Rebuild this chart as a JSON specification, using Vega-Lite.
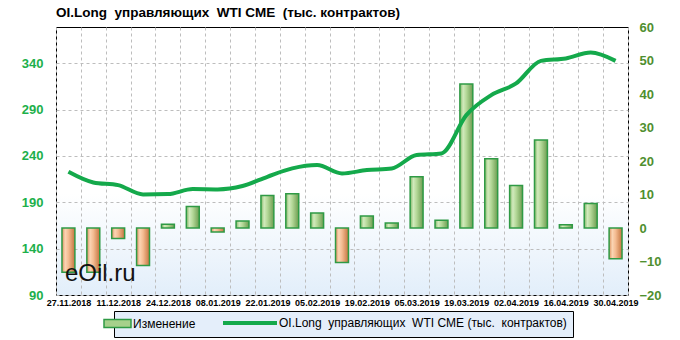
{
  "$schema": "https://vega.github.io/schema/vega-lite/v6.json",
  "width": 572,
  "height": 268,
  "autosize": {"type": "none"},
  "padding": {"left": 56, "top": 27, "right": 52, "bottom": 45},
  "background": "white",
  "config": {
    "font": "Liberation Sans",
    "view": {
      "stroke": "#000000",
      "strokeWidth": 1,
      "fill": {"gradient": "linear", "x1": 0, "y1": 0, "x2": 0, "y2": 1, "stops": [{"offset": 0, "color": "#ffffff"}, {"offset": 0.62, "color": "#ffffff"}, {"offset": 1, "color": "#e2eefa"}]}
    }
  },
  "title": {
    "text": "OI.Long\u00a0 управляющих\u00a0 WTI CME\u00a0 (тыс. контрактов)",
    "anchor": "start",
    "frame": "group",
    "font": "Liberation Sans",
    "fontSize": 13.5,
    "fontWeight": "bold",
    "color": "#000000",
    "baseline": "alphabetic",
    "offset": 8,
    "dy": 17
  },
  "data": {
    "values": [
      {"d": "27.11.2018", "change": -13.2, "oi": 222.9},
      {"d": "04.12.2018", "change": -13.2, "oi": 211.4},
      {"d": "11.12.2018", "change": -3.1, "oi": 208.5},
      {"d": "18.12.2018", "change": -11.2, "oi": 198.5},
      {"d": "24.12.2018", "change": 1.1, "oi": 198.8},
      {"d": "31.12.2018", "change": 6.4, "oi": 204.2},
      {"d": "08.01.2019", "change": -1.2, "oi": 203.9},
      {"d": "15.01.2019", "change": 2.1, "oi": 207.5},
      {"d": "22.01.2019", "change": 9.7, "oi": 217.5},
      {"d": "29.01.2019", "change": 10.2, "oi": 226.5},
      {"d": "05.02.2019", "change": 4.5, "oi": 230.1},
      {"d": "12.02.2019", "change": -10.3, "oi": 221.1},
      {"d": "19.02.2019", "change": 3.6, "oi": 224.7},
      {"d": "26.02.2019", "change": 1.5, "oi": 226.5},
      {"d": "05.03.2019", "change": 15.3, "oi": 240.9},
      {"d": "12.03.2019", "change": 2.3, "oi": 242.7},
      {"d": "19.03.2019", "change": 43.0, "oi": 284.0},
      {"d": "26.03.2019", "change": 20.7, "oi": 305.5},
      {"d": "02.04.2019", "change": 12.7, "oi": 318.1},
      {"d": "09.04.2019", "change": 26.3, "oi": 342.5},
      {"d": "16.04.2019", "change": 1.0, "oi": 345.1},
      {"d": "23.04.2019", "change": 7.3, "oi": 351.5},
      {"d": "30.04.2019", "change": -9.2, "oi": 342.5}
    ]
  },
  "encoding": {
    "x": {
      "field": "d",
      "type": "ordinal",
      "sort": null,
      "scale": {"paddingInner": 0, "paddingOuter": 0},
      "axis": {
        "title": null,
        "labelAngle": 0,
        "labelFont": "Liberation Sans",
        "labelFontSize": 9,
        "labelFontWeight": "bold",
        "labelColor": "#000000",
        "labelPadding": 3,
        "labelOverlap": false,
        "labelExpr": "indexof(['27.11.2018','11.12.2018','24.12.2018','08.01.2019','22.01.2019','05.02.2019','19.02.2019','05.03.2019','19.03.2019','02.04.2019','16.04.2019','30.04.2019'], datum.value) >= 0 ? datum.label : ''",
        "ticks": false,
        "domain": false,
        "grid": true,
        "tickBand": "extent",
        "gridDash": [3, 3],
        "gridColor": "#bdbdbd",
        "gridWidth": 1
      }
    }
  },
  "layer": [
    {
      "mark": {"type": "bar", "width": {"band": 0.52}, "strokeWidth": 1.5},
      "encoding": {
        "y": {
          "field": "change",
          "type": "quantitative",
          "scale": {"domain": [-20, 60], "nice": false},
          "axis": {
            "orient": "right",
            "title": null,
            "values": [-20, -10, 0, 10, 20, 30, 40, 50, 60],
            "grid": false,
            "domain": false,
            "ticks": false,
            "labelColor": "#4f8f2f",
            "labelFont": "Liberation Sans",
            "labelFontSize": 13,
            "labelFontWeight": "bold",
            "labelPadding": 11
          }
        },
        "fill": {
          "condition": {
            "test": "datum.change < 0",
            "value": {"gradient": "linear", "x1": 0, "y1": 0, "x2": 1, "y2": 0, "stops": [{"offset": 0, "color": "#d98f5c"}, {"offset": 0.25, "color": "#fbd5b4"}, {"offset": 0.5, "color": "#f4bc92"}, {"offset": 1, "color": "#c4743f"}]}
          },
          "value": {"gradient": "linear", "x1": 0, "y1": 0, "x2": 1, "y2": 0, "stops": [{"offset": 0, "color": "#82b665"}, {"offset": 0.25, "color": "#d2eabd"}, {"offset": 0.5, "color": "#b4d898"}, {"offset": 1, "color": "#6c9c50"}]}
        },
        "stroke": {
          "datum": "Изменение",
          "scale": {
            "domain": ["Изменение", "OI.Long\u00a0 управляющих\u00a0 WTI CME (тыс.\u00a0 контрактов)"],
            "range": ["#2f9a45", "#14a94b"]
          },
          "legend": {
            "orient": "none",
            "legendX": 58,
            "legendY": 284,
            "direction": "horizontal",
            "title": null,
            "symbolSize": 100,
            "labelFont": "Liberation Sans",
            "labelFontSize": 12,
            "labelColor": "#000000",
            "labelLimit": 500,
            "labelOffset": 1,
            "columnPadding": 19,
            "padding": 6,
            "fillColor": "#e4eefa",
            "strokeColor": "#000000",
            "encoding": {
              "symbols": {
                "shape": {"value": {"expr": "datum.value === 'Изменение' ? 'M-4.4,-0.8H1V0.8H-4.4Z' : 'M-9.8,0H1'"}},
                "fill": {"value": {"expr": "datum.value === 'Изменение' ? '#a6d08b' : 'transparent'"}},
                "strokeWidth": {"value": {"expr": "datum.value === 'Изменение' ? 1.5 : 4"}},
                "opacity": {"value": 1}
              }
            }
          }
        }
      }
    },
    {
      "encoding": {
        "y": {
          "field": "oi",
          "type": "quantitative",
          "scale": {"domain": [90, 379], "nice": false},
          "axis": {
            "orient": "left",
            "title": null,
            "values": [90, 140, 190, 240, 290, 340],
            "grid": true,
            "gridDash": [3, 3],
            "gridColor": "#bdbdbd",
            "domain": false,
            "ticks": false,
            "labelColor": "#1db04b",
            "labelFont": "Liberation Sans",
            "labelFontSize": 13,
            "labelFontWeight": "bold",
            "labelPadding": 13
          }
        }
      },
      "layer": [
        {
          "mark": {"type": "line", "interpolate": "monotone", "strokeWidth": 4},
          "encoding": {
            "stroke": {"datum": "OI.Long\u00a0 управляющих\u00a0 WTI CME (тыс.\u00a0 контрактов)"}
          }
        },
        {
          "data": {"values": [{"d": "27.11.2018", "oi": 105, "t": "eOil.ru"}]},
          "mark": {"type": "text", "align": "left", "baseline": "alphabetic", "dx": -3.5, "font": "Liberation Sans", "fontSize": 24, "color": "#111111"},
          "encoding": {
            "text": {"field": "t"}
          }
        }
      ]
    }
  ],
  "resolve": {"scale": {"y": "independent"}}
}
